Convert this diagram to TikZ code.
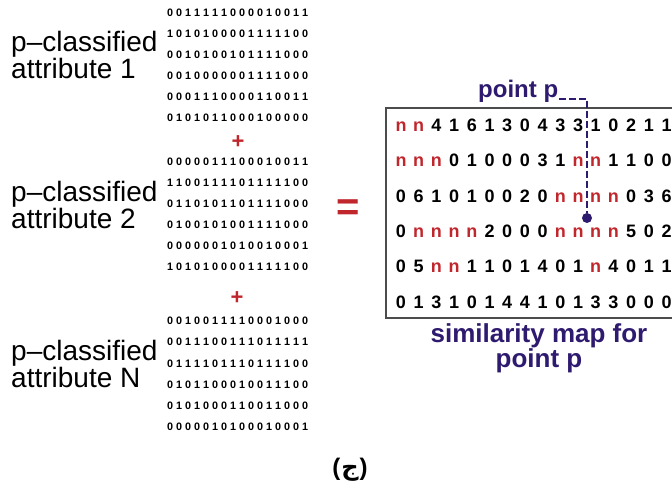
\documentclass[tikz,border=0pt]{standalone}
\usepackage{fontspec}
\setmainfont{Liberation Sans}
\newfontfamily\arabicfont[Script=Arabic]{DejaVu Sans}
\TeXXeTstate=1
\definecolor{mapred}{HTML}{C0272D}
\definecolor{mapblue}{HTML}{2E1A6E}

% one fixed-width cell per bit of a row (the argument may be a macro)
\newcommand\bitcells[1]{\expandafter\bitcellsA#1\relax}
\def\bitcellsA#1{\ifx#1\relax\else\makebox[9pt]{#1}\expandafter\bitcellsA\fi}
% unknown entries of the similarity map are printed as a red n
\newcommand\mapchar[1]{\if n#1\textcolor{mapred}{n}\else#1\fi}

\begin{document}
\begin{tikzpicture}[x=1pt,y=-1pt,
  bits/.style={anchor=west,inner sep=0pt,text height=7.5pt,text depth=0pt,
    font=\fontsize{10.8}{10.8}\selectfont\bfseries},
  attrlabel/.style={anchor=west,align=left,inner sep=0pt,
    font=\fontsize{28}{24}\selectfont},
  mapcell/.style={inner sep=0pt,text height=13pt,text depth=0pt,
    font=\fontsize{18}{18}\selectfont\bfseries},
  plussign/.style={text=mapred,inner sep=0pt,font=\fontsize{22}{22}\selectfont\bfseries},
  bluetext/.style={text=mapblue,inner sep=0pt,font=\fontsize{26}{23}\selectfont\bfseries},
  pdash/.style={draw=mapblue,line width=2.4pt,dash pattern=on 7pt off 3pt},
  boxline/.style={draw=black!70,line width=1.4pt}]
\useasboundingbox (0,0) rectangle (672,497);
\clip (0,0) rectangle (672,497);

% attribute labels
\node[attrlabel] (lab1) at (11,55) {p--classified\\attribute 1};
\node[attrlabel] (lab2) at (11,205) {p--classified\\attribute 2};
\node[attrlabel] (labN) at (11,364) {p--classified\\attribute N};

% bit planes of the three attributes
\foreach \b [count=\i from 0] in {0011111000010011,1010100001111100,0010100101111000,
    0010000001111000,0001110000110011,0101011000100000}
  \node[bits] (a1-\i) at (165.5,{13+21*\i}) {\bitcells{\b}};
\foreach \b [count=\i from 0] in {0000011100010011,1100111101111100,0110101101111000,
    0100101001111000,0000001010010001,1010100001111100}
  \node[bits] (a2-\i) at (165.5,{162+21*\i}) {\bitcells{\b}};
\foreach \b [count=\i from 0] in {0010011110001000,0011100111011111,0111101110111100,
    0101100010011100,0101000110011000,0000010100010001}
  \node[bits] (aN-\i) at (165.5,{321+21.2*\i}) {\bitcells{\b}};

\node[plussign] (plus1) at (238,142) {+};
\node[plussign] (plus2) at (237,298) {+};
\node[text=mapred,inner sep=0pt,font=\fontsize{40}{40}\selectfont\bfseries] (eq) at (348,210) {=};

% similarity map
\draw[boxline] (386,108) rectangle (700,318);
\foreach \row [count=\r from 0] in {
    {n,n,4,1,6,1,3,0,4,3,3,1,0,2,1,1},
    {n,n,n,0,1,0,0,0,3,1,n,n,1,1,0,0},
    {0,6,1,0,1,0,0,2,0,n,n,n,n,0,3,6},
    {0,n,n,n,n,2,0,0,0,n,n,n,n,5,0,2},
    {0,5,n,n,1,1,0,1,4,0,1,n,4,0,1,1},
    {0,1,3,1,0,1,4,4,1,0,1,3,3,0,0,0}}
  \foreach \c [count=\i from 0] in \row
    \node[mapcell] (m\r-\i) at ({401+17.7*\i},{125+35.3*\r}) {\mapchar\c};

% the point p and its marker
\node[bluetext,anchor=west,font=\fontsize{24}{24}\selectfont\bfseries] (plabel) at (478,91) {point p};
\node[circle,fill=mapblue,inner sep=0pt,minimum size=10pt] (pdot) at (587,218) {};
\coordinate (pbend) at (587,99);
\draw[pdash] ([xshift=1pt]plabel.east |- pbend) -- (pbend) -- (pdot);

\node[bluetext,align=center] (caption) at (539,348) {similarity map for\\point p};

% figure letter
\node[inner sep=0pt,font=\fontsize{24}{24}\selectfont\bfseries] (figtag) at (350,470)
  {(\kern1pt{\arabicfont\beginR ج\endR}\kern1pt)};
\end{tikzpicture}
\end{document}
